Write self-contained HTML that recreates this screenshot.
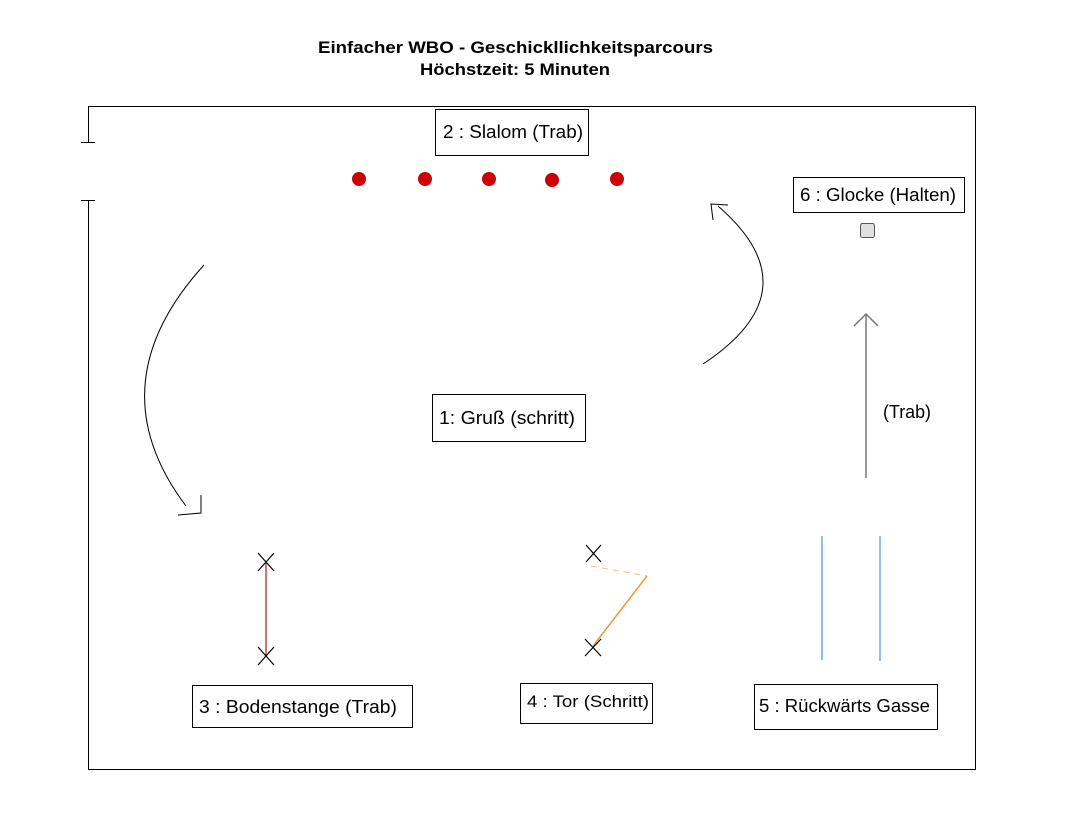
<!DOCTYPE html>
<html><head><meta charset="utf-8"><style>
html,body{margin:0;padding:0;background:#fff;}
svg{display:block;}
text{font-family:"Liberation Sans",Arial,sans-serif;}
</style></head><body>
<svg width="1080" height="834" viewBox="0 0 1080 834" xmlns="http://www.w3.org/2000/svg">
<text x="318" y="53" font-size="17" font-weight="bold" textLength="395" lengthAdjust="spacingAndGlyphs">Einfacher WBO - Geschickllichkeitsparcours</text>
<text x="420" y="75" font-size="17" font-weight="bold" textLength="190" lengthAdjust="spacingAndGlyphs">Höchstzeit: 5 Minuten</text>
<!-- arena -->
<g stroke="#000" stroke-width="1" fill="none">
<path d="M88.5 143 V106.5 H975.5 V769.5 H88.5 V200"/>
<path d="M81 142.5 H95 M81 200.5 H95"/>
</g>
<!-- boxes -->
<g stroke="#000" fill="#fff" stroke-width="1">
<rect x="435.5" y="109.5" width="153" height="46"/>
<rect x="793.5" y="177.5" width="171" height="35"/>
<rect x="432.5" y="394.5" width="153" height="47"/>
<rect x="192.5" y="685.5" width="220" height="42"/>
<rect x="520.5" y="683.5" width="132" height="40"/>
<rect x="754.5" y="684.5" width="183" height="45"/>
</g>
<g font-size="18" fill="#000">
<text x="443" y="138" textLength="140" lengthAdjust="spacingAndGlyphs">2 : Slalom (Trab)</text>
<text x="800" y="201" textLength="156" lengthAdjust="spacingAndGlyphs">6 : Glocke (Halten)</text>
<text x="439" y="424" textLength="136" lengthAdjust="spacingAndGlyphs">1: Gruß (schritt)</text>
<text x="199" y="713" textLength="198" lengthAdjust="spacingAndGlyphs">3 : Bodenstange (Trab)</text>
<text x="527" y="707" font-size="17" textLength="122" lengthAdjust="spacingAndGlyphs">4 : Tor (Schritt)</text>
<text x="759" y="712" textLength="171" lengthAdjust="spacingAndGlyphs">5 : Rückwärts Gasse</text>
<text x="883" y="418" textLength="48" lengthAdjust="spacingAndGlyphs">(Trab)</text>
</g>
<!-- slalom dots -->
<g fill="#cc0000">
<circle cx="359" cy="179" r="7"/><circle cx="425" cy="179" r="7"/><circle cx="489" cy="179" r="7"/><circle cx="552" cy="180" r="7"/><circle cx="617" cy="179" r="7"/>
</g>
<!-- bell -->
<rect x="860.5" y="223.5" width="14" height="14" rx="2" fill="#e0e0e0" stroke="#555"/>
<!-- arrows -->
<g stroke="#000" stroke-width="1" fill="none">
<path d="M204 265 Q95 385 186 506"/>
<path d="M201 495 V513 L178 515"/>
<path d="M703 364 Q815 290 718 206"/>
<path d="M713 220 L711 204 L728 205"/>
</g>
<g stroke="#777" stroke-width="1.5" fill="none">
<path d="M866 478 V315"/>
<path d="M854 326 L866 314 L878 326"/>
</g>
<!-- Bodenstange -->
<line x1="266" y1="562" x2="266" y2="656" stroke="#a02020" stroke-width="1.2"/>
<g stroke="#000" stroke-width="1.2">
<path d="M258 553 L274 571 M274 553 L258 571"/>
<path d="M258 647 L274 665 M274 647 L258 665"/>
</g>
<!-- Tor -->
<path d="M591 566 L647 576" stroke="#f0c090" stroke-width="1" stroke-dasharray="6,5" fill="none"/>
<path d="M647 576 L593 646" stroke="#e89a30" stroke-width="1.5" fill="none"/>
<g stroke="#000" stroke-width="1.2">
<path d="M586 545 L601 562 M601 545 L586 562"/>
<path d="M585 639 L601 656 M601 639 L585 656"/>
</g>
<!-- Gasse -->
<g stroke="#6fa8e0" stroke-width="1.5">
<line x1="822" y1="536" x2="822" y2="660"/>
<line x1="880" y1="536" x2="880" y2="661"/>
</g>
</svg>
</body></html>
